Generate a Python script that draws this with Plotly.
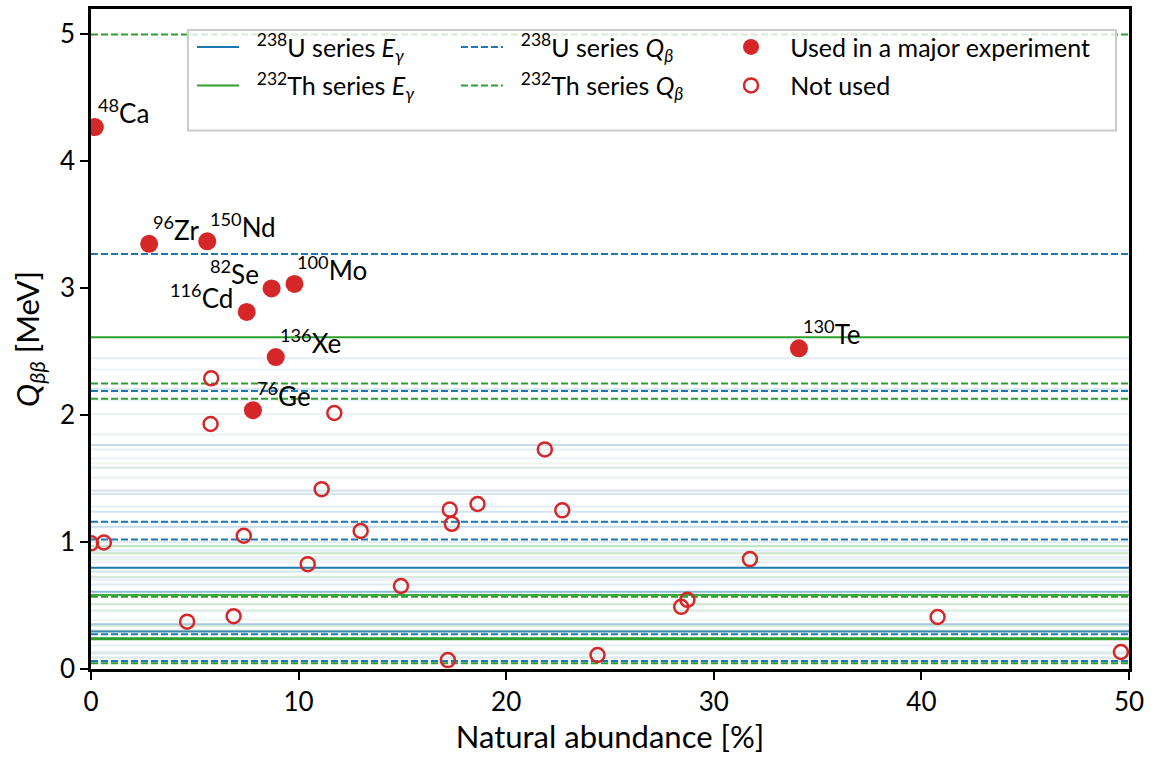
import plotly.graph_objects as go

# ---------------- data ----------------
used_names = ["<sup>48</sup>Ca", "<sup>96</sup>Zr", "<sup>150</sup>Nd", "<sup>82</sup>Se",
              "<sup>100</sup>Mo", "<sup>116</sup>Cd", "<sup>136</sup>Xe", "<sup>76</sup>Ge",
              "<sup>130</sup>Te"]
used_abund = [0.187, 2.8, 5.6, 8.7, 9.8, 7.5, 8.9, 7.8, 34.1]
used_q = [4.27, 3.35, 3.37, 2.998, 3.034, 2.813, 2.458, 2.039, 2.527]

notused_abund = [0.004, 0.62, 4.63, 6.87, 7.36, 10.44, 11.11, 11.72, 12.99, 14.93,
                 17.19, 17.28, 17.38, 18.62, 21.86, 22.7, 24.4, 28.43, 28.73, 31.74,
                 40.78, 49.61, 5.79, 5.76]
notused_q = [0.99, 0.997, 0.373, 0.416, 1.05, 0.826, 1.417, 2.017, 1.087, 0.654,
             0.070, 1.256, 1.144, 1.30, 1.73, 1.25, 0.11, 0.49, 0.545, 0.866,
             0.41, 0.134, 2.29, 1.93]

# U-238 series gamma lines (MeV) and relative visibility
U_gamma_E = [0.0465, 0.0633, 0.0926, 0.118, 0.136, 0.186, 0.2419, 0.295, 0.3052, 0.352,
             0.388, 0.4545, 0.609, 0.665, 0.703, 0.720, 0.768, 0.797, 0.839, 0.880,
             0.934, 1.001, 1.120, 1.155, 1.238, 1.281, 1.378, 1.401, 1.408, 1.509,
             1.583, 1.661, 1.730, 1.764, 1.847, 2.010, 2.118, 2.204, 2.360, 2.448]
U_gamma_rel = [0.10, 0.10, 0.10, 0.10, 0.10, 0.12, 0.25, 0.85, 0.15, 0.40,
               0.08, 0.08, 0.50, 0.15, 0.10, 0.08, 0.20, 1.00, 0.10, 0.12,
               0.15, 0.12, 0.25, 0.12, 0.20, 0.12, 0.18, 0.10, 0.12, 0.10,
               0.08, 0.08, 0.10, 0.25, 0.10, 0.08, 0.08, 0.20, 0.06, 0.12]
# Th-232 series gamma lines
Th_gamma_E = [0.0844, 0.129, 0.2386, 0.2412, 0.2774, 0.300, 0.3384, 0.463, 0.5107, 0.583,
              0.727, 0.7947, 0.860, 0.9112, 0.9646, 0.969, 1.588, 1.6205, 2.6145]
Th_gamma_rel = [0.08, 0.08, 1.00, 0.10, 0.08, 0.10, 0.15, 0.12, 0.25, 0.90,
                0.15, 0.10, 0.10, 0.25, 0.12, 0.20, 0.10, 0.08, 1.00]

U_qbeta = [3.27, 2.19, 1.16, 1.02, 0.273, 0.064]
Th_qbeta = [5.0, 2.25, 2.13, 0.57, 0.046]

x_range = [0, 50]
y_range = [0, 5.2]

# ---------------- styling ----------------
BLUE = "#1f77b4"
GREEN = "#2ca02c"
RED = "#d62728"
FONT = "Lato"
FS = 26
LFS = 25
DASH = "7px,3px"
SP = "\u00a0\u00a0"

fig = go.Figure()

def hline(y, color, dash, opacity, width=2):
    fig.add_trace(go.Scatter(
        x=x_range, y=[y, y], mode="lines",
        line=dict(color=color, width=width, dash=dash),
        opacity=opacity, showlegend=False, hoverinfo="skip"))

for E, r in zip(U_gamma_E, U_gamma_rel):
    hline(E, BLUE, "solid", r)
for E, r in zip(Th_gamma_E, Th_gamma_rel):
    hline(E, GREEN, "solid", r, width=3 if (r >= 1 and E < 1) else 2)
for q in U_qbeta:
    hline(q, BLUE, DASH, 1)
for q in Th_qbeta:
    hline(q, GREEN, DASH, 1)

# legend-only line entries (three legend columns)
leg = [
    (SP + "<sup>238</sup>U series <i>E</i><sub><i>γ</i></sub>", BLUE, "solid", "legend", "a"),
    (SP + "<sup>232</sup>Th series <i>E</i><sub><i>γ</i></sub>", GREEN, "solid", "legend", "b"),
    (SP + "<sup>238</sup>U series <i>Q</i><sub><i>β</i></sub>", BLUE, DASH, "legend2", "c"),
    (SP + "<sup>232</sup>Th series <i>Q</i><sub><i>β</i></sub>", GREEN, DASH, "legend2", "d"),
]
for name, c, d, lg, grp in leg:
    fig.add_trace(go.Scatter(x=[None], y=[None], mode="lines",
                             line=dict(color=c, width=2, dash=d),
                             name=name, legend=lg, legendgroup=grp))

fig.add_trace(go.Scatter(
    x=notused_abund, y=notused_q, mode="markers",
    marker=dict(size=14, color="rgba(0,0,0,0)", line=dict(color=RED, width=2.5)),
    name="\u00a0\u00a0\u00a0Not used", legend="legend3", legendgroup="f", legendrank=2))
fig.add_trace(go.Scatter(
    x=used_abund, y=used_q, mode="markers",
    marker=dict(size=18, color=RED, line=dict(width=0)),
    name="\u00a0\u00a0\u00a0Used in a major experiment", legend="legend3",
    legendgroup="e", legendrank=1))

# labels
label_anchor = ["left", "left", "left", "right", "left", "right", "left", "left", "left"]
label_xshift = [1, 2, 1, -11, 1, -12, 2, 2, 2]
for n, xa, ya, anc, xs in zip(used_names, used_abund, used_q, label_anchor, label_xshift):
    fig.add_annotation(x=xa, y=ya, text=n, xref="x", yref="y", showarrow=False,
                       xanchor=anc, yanchor="bottom", xshift=xs, yshift=-4,
                       font=dict(family=FONT, size=FS, color="black"))

# legend frame
fig.add_shape(type="rect", xref="paper", yref="paper",
              x0=0.0934, x1=0.9875, y0=0.816, y1=0.9683,
              line=dict(color="#cccccc", width=2),
              fillcolor="rgba(255,255,255,0.8)", layer="above")

legend_common = dict(orientation="v", yanchor="top", xanchor="left", y=0.977,
                     bgcolor="rgba(0,0,0,0)", borderwidth=0, tracegroupgap=3,
                     traceorder="grouped", font=dict(family=FONT, size=LFS))

fig.update_layout(
    width=1156, height=760,
    margin=dict(l=91, r=27, t=6, b=91),
    plot_bgcolor="white", paper_bgcolor="white",
    font=dict(family=FONT, size=FS, color="black"),
    legend=dict(x=0.0973, itemwidth=42, **legend_common),
    legend2=dict(x=0.3516, itemwidth=42, **legend_common),
    legend3=dict(x=0.6166, itemwidth=30, **legend_common),
    xaxis=dict(range=x_range, tickvals=[0, 10, 20, 30, 40, 50],
               showgrid=False, zeroline=False, showline=True, mirror=True,
               linecolor="black", linewidth=2.5, ticks="outside", ticklen=8,
               tickwidth=2, tickcolor="black",
               title=dict(text="Natural abundance [%]", standoff=10)),
    yaxis=dict(range=y_range, tickvals=[0, 1, 2, 3, 4, 5],
               showgrid=False, zeroline=False, showline=True, mirror=True,
               linecolor="black", linewidth=2.5, ticks="outside", ticklen=8,
               tickwidth=2, tickcolor="black",
               title=dict(text="<i>Q</i><sub><i>ββ</i></sub> [MeV]", standoff=12)),
    showlegend=True,
)

fig.write_html("out.html")
